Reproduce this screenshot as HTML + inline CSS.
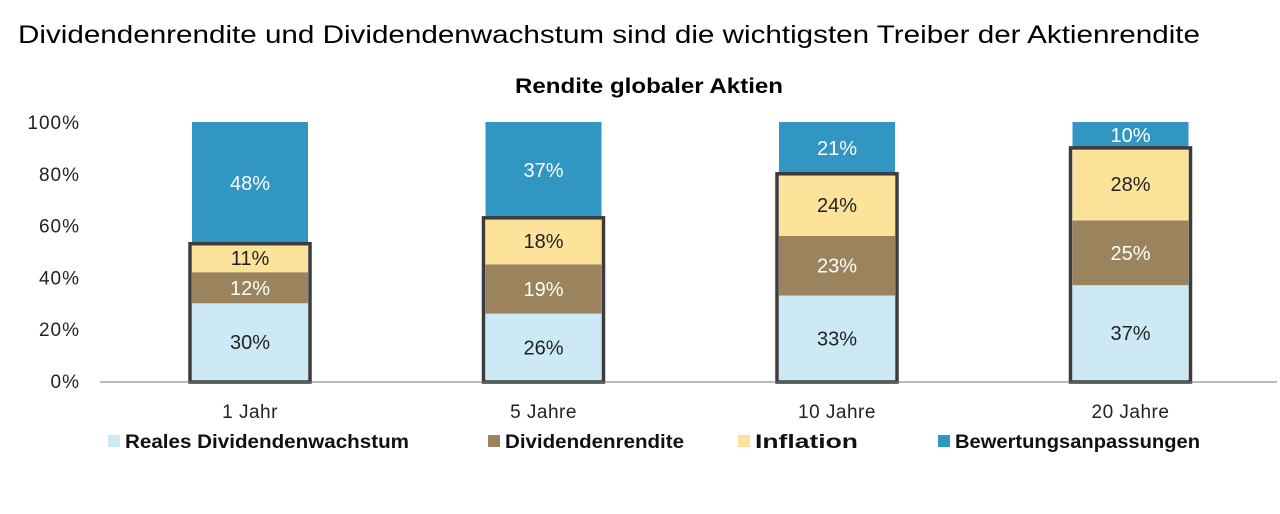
<!DOCTYPE html>
<html><head><meta charset="utf-8"><style>
body{margin:0;background:#fff;width:1280px;height:509px;overflow:hidden;font-family:"Liberation Sans",sans-serif}
</style></head><body>
<svg width="1280" height="509" xmlns="http://www.w3.org/2000/svg" font-family="Liberation Sans, sans-serif">
<text x="18" y="43" font-size="25" fill="#000" textLength="1182" lengthAdjust="spacingAndGlyphs">Dividendenrendite und Dividendenwachstum sind die wichtigsten Treiber der Aktienrendite</text>
<text x="515" y="93" font-size="21" fill="#000" font-weight="bold" textLength="268" lengthAdjust="spacingAndGlyphs">Rendite globaler Aktien</text>
<g id="plot"></g>
<g id="legend"></g>
</svg>
<script>
const categories=["1 Jahr","5 Jahre","10 Jahre","20 Jahre"];
const realGrowth=[30,26,33,37];
const divYield=[12,19,23,25];
const inflation=[11,18,24,28];
const valuation=[48,37,21,10];
const yTicks=[0,20,40,60,80,100];
const seriesNames=["Reales Dividendenwachstum","Dividendenrendite","Inflation","Bewertungsanpassungen"];
const colors=["#cde9f6","#9b845d","#fde39a","#3196c2"];
const textColors=["#222","#fff","#222","#fff"];
const NS="http://www.w3.org/2000/svg";
const g=document.getElementById('plot');
const y0=381,y100=122;
const y=v=>y0-(y0-y100)*v/100;
const x=i=>250+i*293.5;
const bw=116;
function el(t,a,p){const e=document.createElementNS(NS,t);for(const k in a)e.setAttribute(k,a[k]);(p||g).appendChild(e);return e;}
yTicks.forEach(t=>{const e=el('text',{x:80,y:y(t)+7,'font-size':19,'text-anchor':'end',fill:'#222','letter-spacing':1});e.textContent=t+'%';

});
const series=[realGrowth,divYield,inflation,valuation];
categories.forEach((c,i)=>{
  let acc=0;
  series.forEach((s,k)=>{
    const v=s[i];const top=Math.min(acc+v,100);
    const r=el('rect',{x:x(i)-bw/2,y:y(top),width:bw,height:y(acc)-y(top),fill:colors[k]});
    
    
    const t=el('text',{x:x(i),y:(y(acc)+y(top))/2+7,'font-size':20,'text-anchor':'middle',fill:textColors[k]});
    t.textContent=v+'%';
    
    
    acc+=v;
  });
  const fund=realGrowth[i]+divYield[i]+inflation[i];
  const b=el('rect',{x:x(i)-bw/2-2,y:y(fund),width:bw+4,height:y(0)-y(fund)+1,fill:'none',stroke:'#3c3c3c','stroke-width':3.5});
  
  
  const ct=el('text',{x:x(i),y:418,'font-size':19,'text-anchor':'middle',fill:'#222','letter-spacing':0.5});
  ct.textContent=c;
  
  
});
const ax=el('line',{x1:100,x2:1277,y1:y0+1,y2:y0+1,stroke:'#777','stroke-width':1});


const lg=document.getElementById('legend');
const lx=[108,488,738,938];
const lw=[284,179,103,245];
seriesNames.forEach((n,k)=>{
  const r=el('rect',{x:lx[k],y:435,width:12,height:12,fill:colors[k]},lg);
  
  
  const t=el('text',{x:lx[k]+17,y:448,'font-size':19,'font-weight':'bold',fill:'#111',textLength:lw[k],lengthAdjust:'spacingAndGlyphs'},lg);
  t.textContent=n;
  
  
});
</script>
</body></html>
